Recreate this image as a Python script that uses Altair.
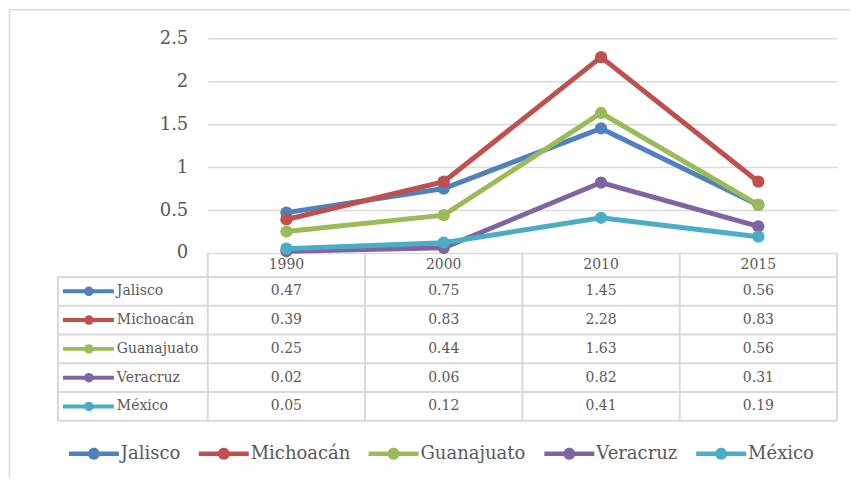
import altair as alt
import pandas as pd

years = ["1990", "2000", "2010", "2015"]
states = ["Jalisco", "Michoacán", "Guanajuato", "Veracruz", "México"]
jalisco = [0.47, 0.75, 1.45, 0.56]
michoacan = [0.39, 0.83, 2.28, 0.83]
guanajuato = [0.25, 0.44, 1.63, 0.56]
veracruz = [0.02, 0.06, 0.82, 0.31]
mexico = [0.05, 0.12, 0.41, 0.19]
series = [jalisco, michoacan, guanajuato, veracruz, mexico]
colors = ["#4F81BD", "#C0504D", "#9BBB59", "#8064A2", "#4BACC6"]
y_ticks = [0, 0.5, 1, 1.5, 2, 2.5]

rows = []
for k, (s, vals) in enumerate(zip(states, series)):
    for j, (yr, v) in enumerate(zip(years, vals)):
        rows.append({"state": s, "row": k, "year": yr, "col": j,
                     "value": v, "label": f"{v:.2f}"})
df = pd.DataFrame(rows)
df_states = pd.DataFrame({"state": states, "row": list(range(len(states)))})
df_years = pd.DataFrame({"year": years, "col": list(range(len(years)))})
df_vl = pd.DataFrame({"b": list(range(len(years) + 1))})
df_hl = pd.DataFrame({"k": list(range(len(states) + 1))})
one = pd.DataFrame({"z": [0]})

W = 630
TOP_H = 215
TAB_H = 168
H = 24 / 28.8            # header height in row units
NROW = len(states)
GRID = "#D9D9D9"
TXT = "#595959"
FONT = "DejaVu Serif"

LEG_PATH = ("M-1,-0.09H1V0.09H-1Z"
            "M-0.24,0A0.24,0.24 0 1,1 0.24,0A0.24,0.24 0 1,1 -0.24,0Z")

legend = alt.Legend(orient="none", legendX=-139, legendY=391,
                    direction="horizontal", title=None,
                    symbolType=LEG_PATH, symbolSize=2500, symbolStrokeWidth=0,
                    symbolOpacity=1,
                    labelFont=FONT, labelFontSize=18, labelColor=TXT,
                    labelOffset=2, columnPadding=18, padding=0)
color = alt.Color("state:N", scale=alt.Scale(domain=states, range=colors),
                  legend=legend)

xscale = alt.Scale(domain=[0, len(years)], nice=False, zero=False)

# ---------- top panel: lines ----------
base = alt.Chart(df).transform_calculate(xc="datum.col + 0.5")
yenc = alt.Y("value:Q", scale=alt.Scale(domain=[0, 2.5], nice=False),
             axis=alt.Axis(values=y_ticks, format="~g", title=None,
                           domain=False, ticks=False, grid=True,
                           gridColor=GRID, gridWidth=1.5,
                           labelFont=FONT, labelFontSize=18, labelColor=TXT,
                           labelPadding=20))
xenc = alt.X("xc:Q", scale=xscale, axis=None)
lines = base.mark_line(strokeWidth=5).encode(x=xenc, y=yenc, color=color)
points = base.mark_circle(size=150, opacity=1).encode(x=xenc, y="value:Q",
                                                     color=color)

frame_top = alt.Chart(one).mark_rule(color=GRID, strokeWidth=1.5).encode(
    x=alt.value(-199), x2=alt.value(643), y=alt.value(-28.5))
frame_left = alt.Chart(one).mark_rule(color=GRID, strokeWidth=1.5).encode(
    x=alt.value(-198.5), y=alt.value(-28.5), y2=alt.value(440))

top = alt.layer(frame_top, frame_left, lines, points).properties(
    width=W, height=TOP_H)

# ---------- table panel ----------
yscale_t = alt.Scale(domain=[0, H + NROW], reverse=True, nice=False, zero=False)

vlines = alt.Chart(df_vl).transform_calculate(
    y0="0", y1=f"{H} + {NROW}").mark_rule(color=GRID, strokeWidth=2).encode(
    x=alt.X("b:Q", scale=xscale, axis=None),
    y=alt.Y("y0:Q", scale=yscale_t, axis=None), y2="y1:Q")

left_border = alt.Chart(one).transform_calculate(
    y0=f"{H}", y1=f"{H} + {NROW}").mark_rule(
    color=GRID, strokeWidth=2, xOffset=-150).encode(
    x=alt.X("z:Q", scale=xscale, axis=None),
    y=alt.Y("y0:Q", scale=yscale_t, axis=None), y2="y1:Q")

hlines = alt.Chart(df_hl).transform_calculate(
    yy=f"{H} + datum.k", x0="0", x1=f"{len(years)}").mark_rule(
    color=GRID, strokeWidth=2, xOffset=-150).encode(
    x=alt.X("x0:Q", scale=xscale, axis=None), x2="x1:Q",
    y=alt.Y("yy:Q", scale=yscale_t, axis=None))

header = alt.Chart(df_years).transform_calculate(
    xc="datum.col + 0.5", yc=f"{H} / 2").mark_text(
    font=FONT, fontSize=14, color=TXT, baseline="middle").encode(
    x=alt.X("xc:Q", scale=xscale, axis=None),
    y=alt.Y("yc:Q", scale=yscale_t, axis=None), text="year:N")

cells = alt.Chart(df).transform_calculate(
    xc="datum.col + 0.5", yc=f"{H} + datum.row + 0.5").mark_text(
    font=FONT, fontSize=14, color=TXT, baseline="middle").encode(
    x=alt.X("xc:Q", scale=xscale, axis=None),
    y=alt.Y("yc:Q", scale=yscale_t, axis=None), text="label:N")

names = alt.Chart(df_states).transform_calculate(
    x0="0", yc=f"{H} + datum.row + 0.5").mark_text(
    font=FONT, fontSize=14, color=TXT, baseline="middle", align="left",
    dx=-91).encode(
    x=alt.X("x0:Q", scale=xscale, axis=None),
    y=alt.Y("yc:Q", scale=yscale_t, axis=None), text="state:N")

sym_line = alt.Chart(df_states).transform_calculate(
    x0="0", yc=f"{H} + datum.row + 0.5").mark_rule(
    strokeWidth=4, xOffset=-145, x2Offset=-94).encode(
    x=alt.X("x0:Q", scale=xscale, axis=None), x2="x0:Q",
    y=alt.Y("yc:Q", scale=yscale_t, axis=None), color=color)

sym_dot = alt.Chart(df_states).transform_calculate(
    x0="0", yc=f"{H} + datum.row + 0.5").mark_circle(
    size=90, opacity=1, xOffset=-119).encode(
    x=alt.X("x0:Q", scale=xscale, axis=None),
    y=alt.Y("yc:Q", scale=yscale_t, axis=None), color=color)

table = alt.layer(vlines, left_border, hlines, header, cells, names,
                  sym_line, sym_dot).properties(width=W, height=TAB_H)

chart = alt.vconcat(top, table, spacing=0, bounds="flush").properties(
    padding=0).configure_view(stroke=None)

chart.save("out.html", embed_options={"renderer": "svg", "actions": False})
